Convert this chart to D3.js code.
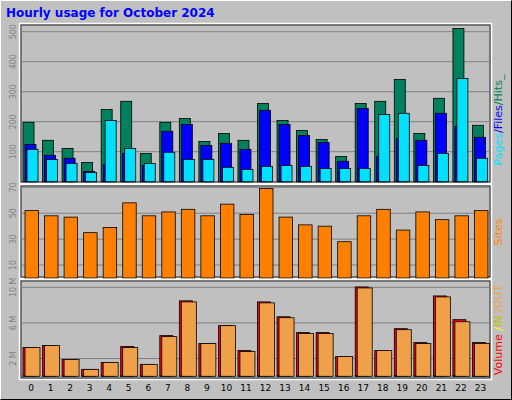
<!DOCTYPE html>
<html><head><meta charset="utf-8">
<script src="https://cdn.jsdelivr.net/npm/d3@7/dist/d3.min.js"></script>
<style>body{margin:0;background:#fff}</style></head><body>
<script>
const hours = d3.range(24).map(String);
const hits  = [198,138,111,64,241,268,94,198,211,134,161,138,261,204,171,141,84,261,268,341,161,278,511,188];
const files = [124,88,78,34,58,94,54,168,191,121,128,108,238,191,154,131,68,244,84,144,138,228,184,148];
const pages = [108,74,61,31,204,111,61,98,74,74,48,41,51,54,51,44,44,44,224,228,54,94,344,78];
const sites = [52,48,47,35,39,58,48,51,53,48,57,49,69,47,41,40,28,48,53,37,51,45,48,52];
const volume = [3.23,3.46,1.9,0.78,1.56,3.35,1.34,4.57,8.48,3.68,5.69,2.9,8.36,6.69,4.91,4.91,2.23,10.04,2.9,5.35,3.79,9.03,6.36,3.79];
const volOut = [3.23,3.46,1.9,0.78,1.56,3.23,1.34,4.46,8.36,3.68,5.69,2.79,8.25,6.58,4.8,4.8,2.23,9.93,2.9,5.24,3.68,8.92,6.13,3.68];
const volIn  = [0.05,0.05,0.03,0.02,0.03,0.05,0.03,0.06,0.07,0.05,0.06,0.05,0.08,0.07,0.06,0.06,0.04,0.1,0.05,0.08,0.06,0.1,0.1,0.06];
const topTicks=[100,200,300,400,500], siteTicks=[10,30,50,70], volTicks=[2,6,10];

const W=512,H=400;
const svg=d3.select("body").append("svg").attr("width",W).attr("height",H).style("font-family","DejaVu Sans, sans-serif");
svg.append("rect").attr("width",W).attr("height",H).attr("fill","#c0c0c0");
// 3D outer border
svg.append("path").attr("d","M0.5,399.5V0.5H511.5").attr("stroke","#fff").attr("fill","none");
svg.append("path").attr("d","M0.5,399.5H511.5V0.5").attr("stroke","#000").attr("fill","none");
svg.append("text").attr("x",6).attr("y",17).text("Hourly usage for October 2024")
  .attr("fill","#0000ff").attr("font-weight","bold").attr("font-size",12);

const x0=21,x1=490;
const x=d3.scaleBand().domain(hours).range([x0+2,x1+2]).paddingInner(0);
const step=x.step();
// frame
function panel(y0,y1){
  svg.append("rect").attr("x",x0-1.5).attr("y",y0-1.5).attr("width",x1-x0+3).attr("height",y1-y0+3).attr("fill","none").attr("stroke","#fff").attr("stroke-width",1.5);
  svg.append("rect").attr("x",x0).attr("y",y0).attr("width",x1-x0).attr("height",y1-y0).attr("fill","#c0c0c0").attr("stroke","#000").attr("stroke-width",0.8);
}
function grid(y,ticks,fmt){
  ticks.forEach(t=>{
    svg.append("line").attr("x1",x0).attr("x2",x1).attr("y1",y(t)).attr("y2",y(t)).attr("stroke","#808080").attr("stroke-width",1);
    svg.append("text").attr("transform",`translate(${x0-5},${y(t)}) rotate(-90)`).attr("text-anchor","middle")
      .attr("font-size",8).attr("fill","#808080").text(fmt(t));
  });
}
function bars(data,y,off,w,color){
  svg.append("g").selectAll("rect").data(data).join("rect")
    .attr("x",(d,i)=>x(hours[i])+off).attr("width",w)
    .attr("y",d=>y(d)).attr("height",d=>Math.max(0,y(0)-y(d)))
    .attr("fill",color).attr("stroke","#000").attr("stroke-width",0.8);
}
// top
panel(25,182);
const yT=d3.scaleLinear().domain([0,500]).range([181.7,31.7]);
grid(yT,topTicks,d=>d);
bars(hits,yT,0,11,"#00805c");
bars(files,yT,2,11,"#0000ff");
bars(pages,yT,4,11,"#00e0ff");
// sites
panel(186,277);
const yS=d3.scaleLinear().domain([0,70]).range([278,187.3]);
grid(yS,siteTicks,d=>d);
bars(sites,yS,2,13.5,"#ff8000");
// volume
panel(281,378);
const yV=d3.scaleLinear().domain([0,10]).range([376.3,287.3]);
grid(yV,volTicks,d=>d+" M");
bars(volume,yV,0,13,"#ff0000");
bars(volOut,yV,2,15,"#f0a048");
bars(volIn,yV,0,2,"#ffff00");
// x labels
svg.append("g").selectAll("text").data(hours).join("text")
  .attr("x",d=>x(d)+8).attr("y",391).attr("text-anchor","middle").attr("font-size",9).attr("fill","#000").text(d=>d);
// right labels
function rlab(yc,parts){
  const t=svg.append("text").attr("transform",`translate(502,${yc}) rotate(-90)`).attr("text-anchor","middle").attr("font-size",11);
  parts.forEach(p=>t.append("tspan").attr("fill",p[1]).text(p[0]));
}
rlab(120,[["Pages","#00e0ff"],["/","#0000ff"],["Files","#0000ff"],["/","#00805c"],["Hits_","#00805c"]]);
rlab(232,[["Sites","#ff8000"]]);
rlab(330,[["Volume","#ff0000"],[" /","#ffff00"],["IN","#c0c000"],[" /","#f0a048"],["OUT","#f0a048"]]);
</script></body></html>
